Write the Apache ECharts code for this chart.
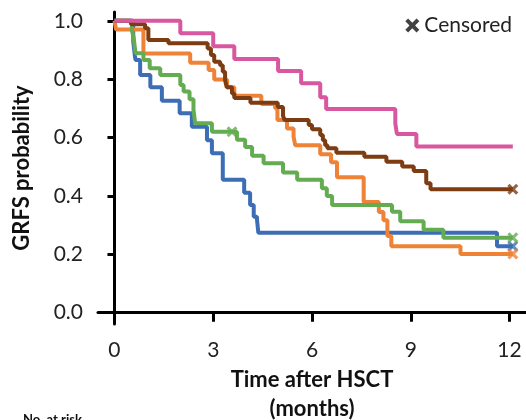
<!DOCTYPE html>
<html>
<head>
<meta charset="utf-8">
<script src="https://cdn.jsdelivr.net/npm/echarts@6/dist/echarts.min.js"></script>
<style>
html,body{margin:0;padding:0;background:#fff;}
#chart{width:526px;height:420px;}
</style>
</head>
<body>
<div id="chart"></div>
<script>
// ---- data (months, GRFS probability) ----
var xTicks = [0, 3, 6, 9, 12];
var yTicks = [0, 0.2, 0.4, 0.6, 0.8, 1.0];

var blueTimes = [0, 0.57, 0.62, 0.64, 0.78, 1.09, 1.44, 1.98, 2.35, 2.81, 2.96, 3.29, 3.94, 4.12, 4.23, 4.33, 4.37, 11.62, 12.1];
var blueSurv  = [1, 0.93, 0.88, 0.866, 0.814, 0.772, 0.726, 0.683, 0.637, 0.591, 0.546, 0.455, 0.411, 0.369, 0.329, 0.318, 0.274, 0.228, 0.228];

var orangeTimes = [0, 0.05, 0.88, 2.30, 2.86, 3.03, 3.42, 3.64, 4.46, 4.88, 4.95, 5.24, 5.44, 5.49, 6.25, 6.58, 6.76, 7.57, 8.03, 8.17, 8.29, 8.41, 10.51, 12.1];
var orangeSurv  = [1, 0.97, 0.888, 0.856, 0.831, 0.799, 0.772, 0.743, 0.715, 0.700, 0.660, 0.631, 0.603, 0.574, 0.543, 0.515, 0.464, 0.379, 0.345, 0.317, 0.263, 0.228, 0.201, 0.201];

var greenTimes = [0, 0.53, 0.58, 0.64, 0.88, 1.07, 1.39, 2.0, 2.1, 2.28, 2.40, 2.45, 2.96, 3.72, 3.97, 4.18, 4.53, 5.12, 5.55, 6.30, 6.45, 6.61, 8.43, 8.68, 9.39, 9.99, 12.1];
var greenSurv  = [1, 0.966, 0.945, 0.889, 0.866, 0.837, 0.814, 0.780, 0.758, 0.731, 0.695, 0.649, 0.620, 0.592, 0.568, 0.538, 0.512, 0.480, 0.455, 0.426, 0.400, 0.369, 0.346, 0.313, 0.284, 0.257, 0.257];

var brownTimes = [0, 0.5, 0.93, 1.03, 1.64, 2.83, 2.93, 3.03, 3.21, 3.29, 3.36, 3.41, 3.57, 3.64, 4.13, 4.96, 5.12, 5.17, 5.90, 6.00, 6.25, 6.33, 6.40, 6.47, 6.74, 7.59, 8.26, 8.74, 9.09, 9.47, 9.60, 12.1];
var brownSurv  = [1, 0.988, 0.974, 0.934, 0.923, 0.905, 0.883, 0.860, 0.848, 0.825, 0.797, 0.772, 0.751, 0.735, 0.719, 0.705, 0.674, 0.660, 0.643, 0.628, 0.609, 0.591, 0.574, 0.563, 0.548, 0.534, 0.517, 0.501, 0.485, 0.443, 0.423, 0.423];

var pinkTimes = [0, 2.0, 3.0, 3.64, 4.97, 5.67, 6.25, 6.43, 8.53, 8.58, 9.17, 12.1];
var pinkSurv  = [1, 0.957, 0.913, 0.869, 0.828, 0.786, 0.738, 0.698, 0.648, 0.612, 0.569, 0.569];

var blueCensT = [12.1],         blueCensS = [0.228];
var orangeCensT = [12.1],       orangeCensS = [0.201];
var greenCensT = [3.57, 12.1],  greenCensS = [0.620, 0.257];
var brownCensT = [12.1],        brownCensS = [0.423];
var pinkCensT = [],             pinkCensS = [];

// ---- styling ----
var FONT = 'Lato';
var cross = 'path://M2,0 L5,3 L8,0 L10,2 L7,5 L10,8 L8,10 L5,7 L2,10 L0,8 L3,5 L0,2 Z';

function zip(a, b) { return a.map(function (v, i) { return [v, b[i]]; }); }

var groups = [
  { name: 'Group 1', color: '#3D6DB5', t: blueTimes, s: blueSurv, ct: blueCensT, cs: blueCensS },
  { name: 'Group 2', color: '#EE8236', t: orangeTimes, s: orangeSurv, ct: orangeCensT, cs: orangeCensS },
  { name: 'Group 3', color: '#64AC52', t: greenTimes, s: greenSurv, ct: greenCensT, cs: greenCensS },
  { name: 'Group 4', color: '#7D3C12', t: brownTimes, s: brownSurv, ct: brownCensT, cs: brownCensS },
  { name: 'Group 5', color: '#D957A0', t: pinkTimes, s: pinkSurv, ct: pinkCensT, cs: pinkCensS }
];

var series = [];
groups.forEach(function (g, i) {
  series.push({
    name: g.name, type: 'line', step: 'end', data: zip(g.t, g.s),
    showSymbol: false, symbol: 'none', z: 2 + i,
    lineStyle: { color: g.color, width: 4 }, itemStyle: { color: g.color },
    animation: false
  });
  series.push({
    name: g.name + ' censored', type: 'scatter', data: zip(g.ct, g.cs),
    symbol: cross, symbolSize: 11, z: 2 + i,
    itemStyle: { color: g.color }, animation: false
  });
});
series.push({ name: 'Censored', type: 'scatter', data: [], symbol: cross, itemStyle: { color: '#111' } });

var chart = echarts.init(document.getElementById('chart'), null, { renderer: 'canvas' });
chart.setOption({
  animation: false,
  backgroundColor: '#fff',
  textStyle: { fontFamily: FONT },
  legend: {
    data: [{ name: 'Censored', icon: cross }],
    right: 9, top: 10, itemWidth: 14, itemHeight: 14, itemGap: 13,
    textStyle: { fontFamily: FONT, fontSize: 21, color: '#222' },
    selectedMode: false
  },
  grid: { left: 98, right: 0, top: 12, bottom: 96, containLabel: false, outerBoundsMode: 'none' },
  xAxis: {
    type: 'value', min: -0.5, max: 12.5,
    name: 'Time after HSCT\n(months)', nameLocation: 'middle', nameGap: 41,
    nameTextStyle: { fontFamily: FONT, fontSize: 22, fontWeight: 'bold', color: '#111', lineHeight: 29 },
    axisLine: { show: true, lineStyle: { color: '#000', width: 3 } },
    axisTick: { show: true, length: 9, lineStyle: { color: '#000', width: 3 }, customValues: xTicks },
    axisLabel: { customValues: xTicks, fontSize: 21, color: '#222', margin: 16, fontFamily: FONT },
    splitLine: { show: false }
  },
  yAxis: {
    type: 'value', min: -0.0387, max: 1.03,
    name: 'GRFS probability', nameLocation: 'middle', nameGap: 65,
    nameTextStyle: { fontFamily: FONT, fontSize: 22, fontWeight: 'bold', color: '#111' },
    axisLine: { show: true, lineStyle: { color: '#000', width: 3 } },
    axisTick: { show: true, length: 7, lineStyle: { color: '#000', width: 3 }, customValues: yTicks },
    axisLabel: { customValues: yTicks, fontSize: 21, color: '#222', margin: 15, fontFamily: FONT,
      formatter: function (v) { return v.toFixed(1); } },
    splitLine: { show: false }
  },
  graphic: [{
    type: 'text', left: 23, top: 413,
    style: { text: 'No. at risk', font: 'bold 13px ' + FONT, fill: '#111' }
  }],
  series: series
});
</script>
</body>
</html>
